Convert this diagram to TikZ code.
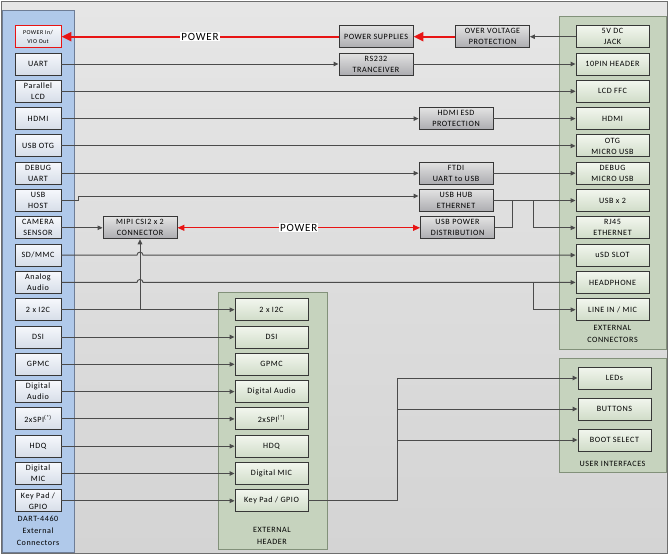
\documentclass[tikz,border=0pt]{standalone}
\usepackage{fontspec}
\setmainfont{Carlito}[LetterSpace=7]
\usetikzlibrary{arrows.meta}
\definecolor{bgtop}{RGB}{230,230,230}
\definecolor{bgbot}{RGB}{212,212,212}
\definecolor{frame}{RGB}{110,110,110}
\definecolor{bluepanel}{RGB}{176,201,234}
\definecolor{blueborder}{RGB}{110,125,150}
\definecolor{greenpanel}{RGB}{198,211,190}
\definecolor{greenborder}{RGB}{130,145,122}
\definecolor{boxborder}{RGB}{55,55,55}
\definecolor{lbtop}{RGB}{246,248,252}
\definecolor{lbbot}{RGB}{214,221,232}
\definecolor{gbtop}{RGB}{226,226,226}
\definecolor{gbbot}{RGB}{172,172,176}
\definecolor{cbtop}{RGB}{242,246,238}
\definecolor{cbbot}{RGB}{208,220,200}
\definecolor{linecol}{RGB}{75,75,75}
\definecolor{pwrred}{RGB}{232,20,20}
\newcommand\boxfont{\fontsize{8.1}{11}\selectfont}
\newcommand\smallboxfont{\fontsize{6}{8.5}\selectfont}
\tikzset{
  basebox/.style={draw=boxborder, line width=0.9pt, inner sep=0pt, align=center, font=\boxfont, minimum height=22pt},
  lbox/.style={basebox, top color=lbtop, bottom color=lbbot, minimum width=46pt},
  gbox/.style={basebox, top color=gbtop, bottom color=gbbot, minimum width=74pt},
  cbox/.style={basebox, top color=cbtop, bottom color=cbbot, minimum width=73pt},
  conn/.style={draw=linecol, line width=0.9pt},
  arr/.style={conn, -{Triangle[length=5pt,width=4.5pt]}},
  pwrthick/.style={draw=pwrred, line width=2.4pt, -{Triangle[length=10pt,width=9pt]}},
  pwrthin/.style={draw=pwrred, line width=1.2pt, {Triangle[length=7pt,width=6pt]}-{Triangle[length=7pt,width=6pt]}},
  plabel/.style={fill=white, inner sep=1pt, font=\fontsize{11}{12}\selectfont},
  paneltext/.style={font=\fontsize{8.1}{12}\selectfont, align=center, inner sep=0pt}
}
\begin{document}
\begin{tikzpicture}[x=1pt,y=-1pt]
\useasboundingbox (0,0) rectangle (669,555);
% background and panels
\path[top color=bgtop, bottom color=bgbot, draw=frame, line width=0.8pt] (1,1.5) rectangle (667,553);
\path[fill=bluepanel, draw=blueborder, line width=0.8pt] (2,10) rectangle (74,552);
\path[fill=greenpanel, draw=greenborder, line width=0.8pt] (559,16) rectangle (666,349);
\path[fill=greenpanel, draw=greenborder, line width=0.8pt] (559,358) rectangle (666,472);
\path[fill=greenpanel, draw=greenborder, line width=0.8pt] (218,292) rectangle (327,549);

% left boxes
\node[lbox, draw=pwrred, font=\smallboxfont] (lpow) at (38,36.7) {POWER In/\\VIO Out};
\node[lbox] (luart) at (38,64) {UART};
\node[lbox] (llcd)  at (38,91.3) {Parallel\\LCD};
\node[lbox] (lhdmi) at (38,118.6) {HDMI};
\node[lbox] (lotg)  at (38,145.9) {USB OTG};
\node[lbox] (ldbg)  at (38,173.2) {DEBUG\\UART};
\node[lbox] (lhost) at (38,200.5) {USB\\HOST};
\node[lbox] (lcam)  at (38,227.8) {CAMERA\\SENSOR};
\node[lbox] (lsd)   at (38,255.1) {SD/MMC};
\node[lbox] (laud)  at (38,282.4) {Analog\\Audio};
\node[lbox] (li2c)  at (38,309.7) {2 x I2C};
\node[lbox] (ldsi)  at (38,337) {DSI};
\node[lbox] (lgpmc) at (38,364.3) {GPMC};
\node[lbox] (lda)   at (38,391.6) {Digital\\Audio};
\node[lbox] (lspi)  at (38,418.9) {2xSPI\textsuperscript{(*)}};
\node[lbox] (lhdq)  at (38,446.2) {HDQ};
\node[lbox] (lmic)  at (38,473.5) {Digital\\MIC};
\node[lbox] (lkey)  at (38,500.8) {Key Pad /\\GPIO};
\node[paneltext] (ldart) at (38,531) {DART-4460\\External\\Connectors};

% right external connectors
\node[cbox] (r5v)   at (612.5,36.7) {5V DC\\JACK};
\node[cbox] (r10p)  at (612.5,64) {10PIN HEADER};
\node[cbox] (rlcd)  at (612.5,91.3) {LCD FFC};
\node[cbox] (rhdmi) at (612.5,118.6) {HDMI};
\node[cbox] (rotg)  at (612.5,145.9) {OTG\\MICRO USB};
\node[cbox] (rdbg)  at (612.5,173.2) {DEBUG\\MICRO USB};
\node[cbox] (rusb)  at (612.5,200.5) {USB x 2};
\node[cbox] (rrj)   at (612.5,227.8) {RJ45\\ETHERNET};
\node[cbox] (rsd)   at (612.5,255.1) {uSD SLOT};
\node[cbox] (rhp)   at (612.5,282.4) {HEADPHONE};
\node[cbox] (rline) at (612.5,309.7) {LINE IN / MIC};
\node[paneltext] (rtxt) at (612.5,333.5) {EXTERNAL\\CONNECTORS};

% user interfaces
\node[cbox] (uled)  at (614.5,378) {LEDs};
\node[cbox] (ubtn)  at (614.5,409) {BUTTONS};
\node[cbox] (uboot) at (614.5,440) {BOOT SELECT};
\node[paneltext] (utxt) at (612.5,464) {USER INTERFACES};

% external header
\node[cbox] (hi2c)  at (271.5,309.7) {2 x I2C};
\node[cbox] (hdsi)  at (271.5,337) {DSI};
\node[cbox] (hgpmc) at (271.5,364.3) {GPMC};
\node[cbox] (hda)   at (271.5,391.6) {Digital Audio};
\node[cbox] (hspi)  at (271.5,418.9) {2xSPI\textsuperscript{(*)}};
\node[cbox] (hhdq)  at (271.5,446.2) {HDQ};
\node[cbox] (hmic)  at (271.5,473.5) {Digital MIC};
\node[cbox] (hkey)  at (271.5,500.8) {Key Pad / GPIO};
\node[paneltext] (htxt) at (272,536) {EXTERNAL\\HEADER};

% middle gray boxes
\node[gbox] (mps)   at (376,36.7) {POWER SUPPLIES};
\node[gbox] (movp)  at (492.5,36.7) {OVER VOLTAGE\\PROTECTION};
\node[gbox] (mrs)   at (376,64) {RS232\\TRANCEIVER};
\node[gbox] (mhesd) at (456,118.6) {HDMI ESD\\PROTECTION};
\node[gbox] (mftdi) at (456,173.2) {FTDI\\UART to USB};
\node[gbox] (mhub)  at (456,200.5) {USB HUB\\ETHERNET};
\node[gbox] (mupd)  at (457.5,227.8) {USB POWER\\DISTRIBUTION};
\node[gbox] (mipi)  at (140,227.8) {MIPI CSI2 x 2\\CONNECTOR};

% helper coordinates
\coordinate (hostA) at (78,200.5);
\coordinate (hostB) at (78,196);
\coordinate (hubIn) at (mhub.west |- hostB);
\coordinate (jhub) at (533,200.5);
\coordinate (jrj) at (533,227.8);
\coordinate (jpd1) at (512,227.8);
\coordinate (jpd2) at (512,200.5);
\coordinate (sdA) at (137,255.1);
\coordinate (audA) at (137,282.4);
\coordinate (jaud) at (533,282.4);
\coordinate (jline) at (533,309.7);
\coordinate (ji2c) at (140,309.7);
\coordinate (k1) at (397,500.8);
\coordinate (k2) at (397,378);
\coordinate (k3) at (397,409);
\coordinate (k4) at (397,440);

% power
\draw[pwrthick] (mps.west) -- node[plabel, pos=0.5] {POWER} (lpow.east);
\draw[pwrthick] (movp.west) -- (mps.east);
\draw[arr] (r5v.west) -- (movp.east);
\draw[pwrthin] (mipi.east) -- node[plabel, pos=0.5] {POWER} (mupd.west);

% signal lines
\draw[arr] (luart.east) -- (mrs.west);
\draw[arr] (mrs.east) -- (r10p.west);
\draw[arr] (llcd.east) -- (rlcd.west);
\draw[arr] (lhdmi.east) -- (mhesd.west);
\draw[arr] (mhesd.east) -- (rhdmi.west);
\draw[arr] (lotg.east) -- (rotg.west);
\draw[arr] (ldbg.east) -- (mftdi.west);
\draw[arr] (mftdi.east) -- (rdbg.west);
\draw[arr] (lhost.east) -- (hostA) -- (hostB) -- (hubIn);
\draw[arr] (mhub.east) -- (rusb.west);
\draw[arr] (jhub) -- (jrj) -- (rrj.west);
\draw[conn] (mupd.east) -- (jpd1) -- (jpd2);
\draw[arr] (lcam.east) -- (mipi.west);
\draw[arr] (lsd.east) -- (sdA) arc (180:0:3pt) -- (rsd.west);
\draw[arr] (laud.east) -- (audA) arc (180:0:3pt) -- (rhp.west);
\draw[arr] (jaud) -- (jline) -- (rline.west);
\draw[arr] (li2c.east) -- (hi2c.west);
\draw[arr] (ji2c) -- (mipi.south);
\draw[arr] (ldsi.east) -- (hdsi.west);
\draw[arr] (lgpmc.east) -- (hgpmc.west);
\draw[arr] (lda.east) -- (hda.west);
\draw[arr] (lspi.east) -- (hspi.west);
\draw[arr] (lhdq.east) -- (hhdq.west);
\draw[arr] (lmic.east) -- (hmic.west);
\draw[arr] (lkey.east) -- (hkey.west);
\draw[arr] (hkey.east) -- (k1) -- (k2) -- (uled.west);
\draw[arr] (k3) -- (ubtn.west);
\draw[arr] (k4) -- (uboot.west);
\end{tikzpicture}
\end{document}
